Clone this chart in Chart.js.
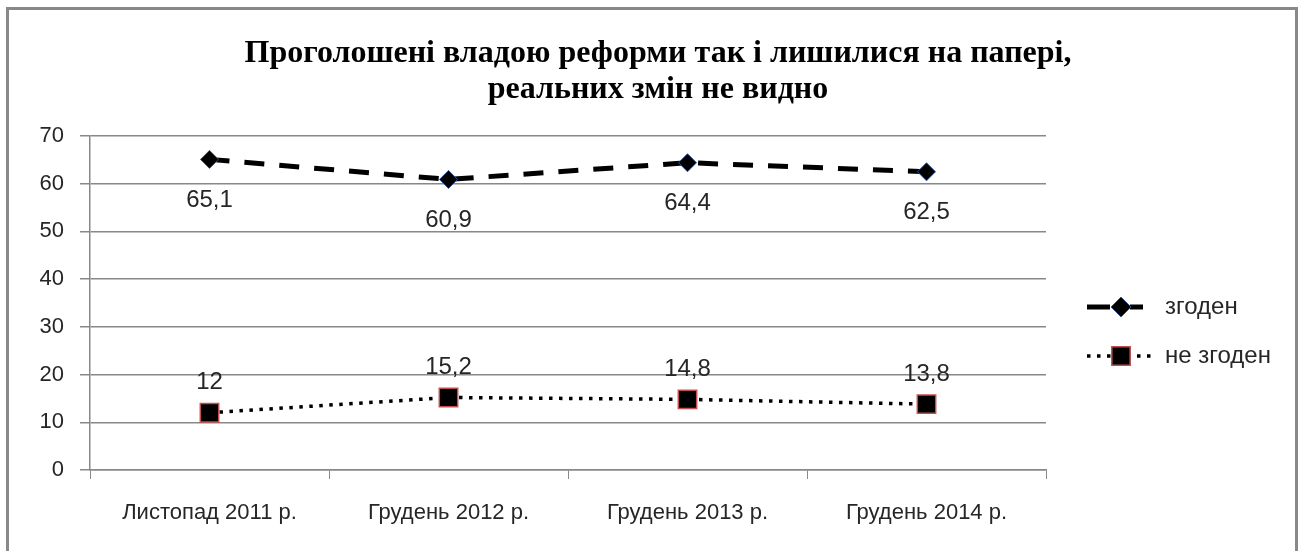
<!DOCTYPE html>
<html>
<head>
    <meta charset="utf-8">
    <title>Реформи</title>
    <script src="https://cdn.jsdelivr.net/npm/chart.js@4.4.1/dist/chart.umd.min.js"></script>
    <style>
        html, body {
            margin: 0;
            padding: 0;
            background: #fff;
        }
        #frame {
            position: absolute;
            left: 6px;
            top: 7px;
            width: 1292px;
            height: 560px;
            border: 3px solid #888;
            box-sizing: border-box;
        }
        #chart {
            position: absolute;
            left: 0;
            top: 0;
        }
    </style>
</head>
<body>
<div id="frame"></div>
<canvas id="chart" width="1304" height="551"></canvas>
<script>
    var categories = ['Листопад 2011 р.', 'Грудень 2012 р.', 'Грудень 2013 р.', 'Грудень 2014 р.'];
    var agree = [65.1, 60.9, 64.4, 62.5];
    var disagree = [12, 15.2, 14.8, 13.8];
    var seriesNames = ['згоден', 'не згоден'];
    var titleLines = ['Проголошені владою реформи так і лишилися на папері,', 'реальних змін не видно'];
    var yTicks = [0, 10, 20, 30, 40, 50, 60, 70];

    var textColor = '#262626';
    var labelFont = '24px "Liberation Sans", Arial, sans-serif';

    // value labels: below points for first series, above for second
    var valueLabels = {
        id: 'valueLabels',
        afterDatasetsDraw: function (chart) {
            var ctx = chart.ctx;
            ctx.save();
            ctx.font = labelFont;
            ctx.fillStyle = textColor;
            ctx.textAlign = 'center';
            ctx.textBaseline = 'middle';
            chart.data.datasets.forEach(function (ds, di) {
                var meta = chart.getDatasetMeta(di);
                meta.data.forEach(function (pt, i) {
                    var txt = String(ds.data[i]).replace('.', ',');
                    var dy = di === 0 ? 41 : -30;
                    ctx.fillText(txt, pt.x, pt.y + dy);
                });
            });
            ctx.restore();
        }
    };

    // legend drawn at the right side of the plot
    var sideLegend = {
        id: 'sideLegend',
        afterDraw: function (chart) {
            var ctx = chart.ctx;
            var rows = [307, 356];
            ctx.save();
            chart.data.datasets.forEach(function (ds, di) {
                var y = rows[di];
                ctx.strokeStyle = '#000';
                ctx.lineWidth = ds.borderWidth;
                ctx.lineCap = 'butt';
                ctx.setLineDash(di === 0 ? [] : ds.borderDash);
                ctx.beginPath();
                if (di === 0) {
                    ctx.moveTo(1087, y); ctx.lineTo(1110, y);
                    ctx.moveTo(1130, y); ctx.lineTo(1143, y);
                } else {
                    ctx.moveTo(1087, y); ctx.lineTo(1153, y);
                }
                ctx.stroke();
                ctx.setLineDash([]);
                ctx.fillStyle = ds.pointBackgroundColor;
                ctx.strokeStyle = ds.pointBorderColor;
                ctx.lineWidth = ds.pointBorderWidth;
                Chart.helpers.drawPoint(ctx, {
                    pointStyle: ds.pointStyle,
                    radius: ds.pointRadius + (di === 0 ? 1 : 0),
                    borderWidth: ds.pointBorderWidth
                }, 1121, y);
                ctx.fillStyle = textColor;
                ctx.font = labelFont;
                ctx.textAlign = 'left';
                ctx.textBaseline = 'middle';
                ctx.fillText(seriesNames[di], 1165, y);
            });
            ctx.restore();
        }
    };

    var ctx = document.getElementById('chart').getContext('2d');
    var chart = new Chart(ctx, {
        type: 'line',
        data: {
            labels: categories,
            datasets: [{
                label: seriesNames[0],
                data: agree,
                borderColor: '#000',
                borderWidth: 5,
                borderDash: [20, 15],
                pointStyle: 'rectRot',
                pointRadius: 9,
                pointBackgroundColor: '#000',
                pointBorderColor: '#2f5597',
                pointBorderWidth: 1,
                tension: 0
            }, {
                label: seriesNames[1],
                data: disagree,
                borderColor: '#000',
                borderWidth: 3.5,
                borderDash: [3.5, 6.5],
                pointStyle: 'rect',
                pointRadius: 13,
                pointBackgroundColor: '#000',
                pointBorderColor: '#c0504d',
                pointBorderWidth: 1.5,
                tension: 0
            }]
        },
        options: {
            responsive: false,
            animation: false,
            devicePixelRatio: 1,
            layout: {padding: {left: 12, right: 0, top: 0, bottom: 0}},
            events: [],
            plugins: {
                legend: {display: false},
                tooltip: {enabled: false},
                title: {
                    display: true,
                    text: titleLines,
                    color: '#000',
                    font: {family: '"Liberation Serif", "Times New Roman", serif', size: 32, weight: 'bold', lineHeight: 1.125},
                    padding: {top: 36, bottom: 28}
                }
            },
            scales: {
                x: {
                    offset: true,
                    grid: {
                        offset: true,
                        drawOnChartArea: false,
                        drawTicks: true,
                        tickLength: 9,
                        color: '#888'
                    },
                    border: {color: '#888', width: 1.5},
                    ticks: {
                        color: textColor,
                        font: {family: '"Liberation Sans", Arial, sans-serif', size: 22},
                        padding: 21,
                        maxRotation: 0
                    },
                    afterFit: function (s) { s.height = 81; }
                },
                y: {
                    min: 0,
                    max: 70,
                    afterBuildTicks: function (s) {
                        s.ticks = yTicks.map(function (v) { return {value: v}; });
                    },
                    grid: {
                        color: '#888',
                        lineWidth: 1.5,
                        tickLength: 10
                    },
                    border: {color: '#888', width: 1.5},
                    ticks: {
                        color: textColor,
                        font: {family: '"Liberation Sans", Arial, sans-serif', size: 22},
                        padding: 16
                    },
                    afterFit: function (s) { s.width = 78; }
                },
                y2: {
                    position: 'right',
                    display: true,
                    grid: {display: false, drawTicks: false},
                    border: {display: false},
                    ticks: {display: false},
                    afterFit: function (s) { s.width = 258; }
                }
            }
        },
        plugins: [valueLabels, sideLegend]
    });
</script>
</body>
</html>
